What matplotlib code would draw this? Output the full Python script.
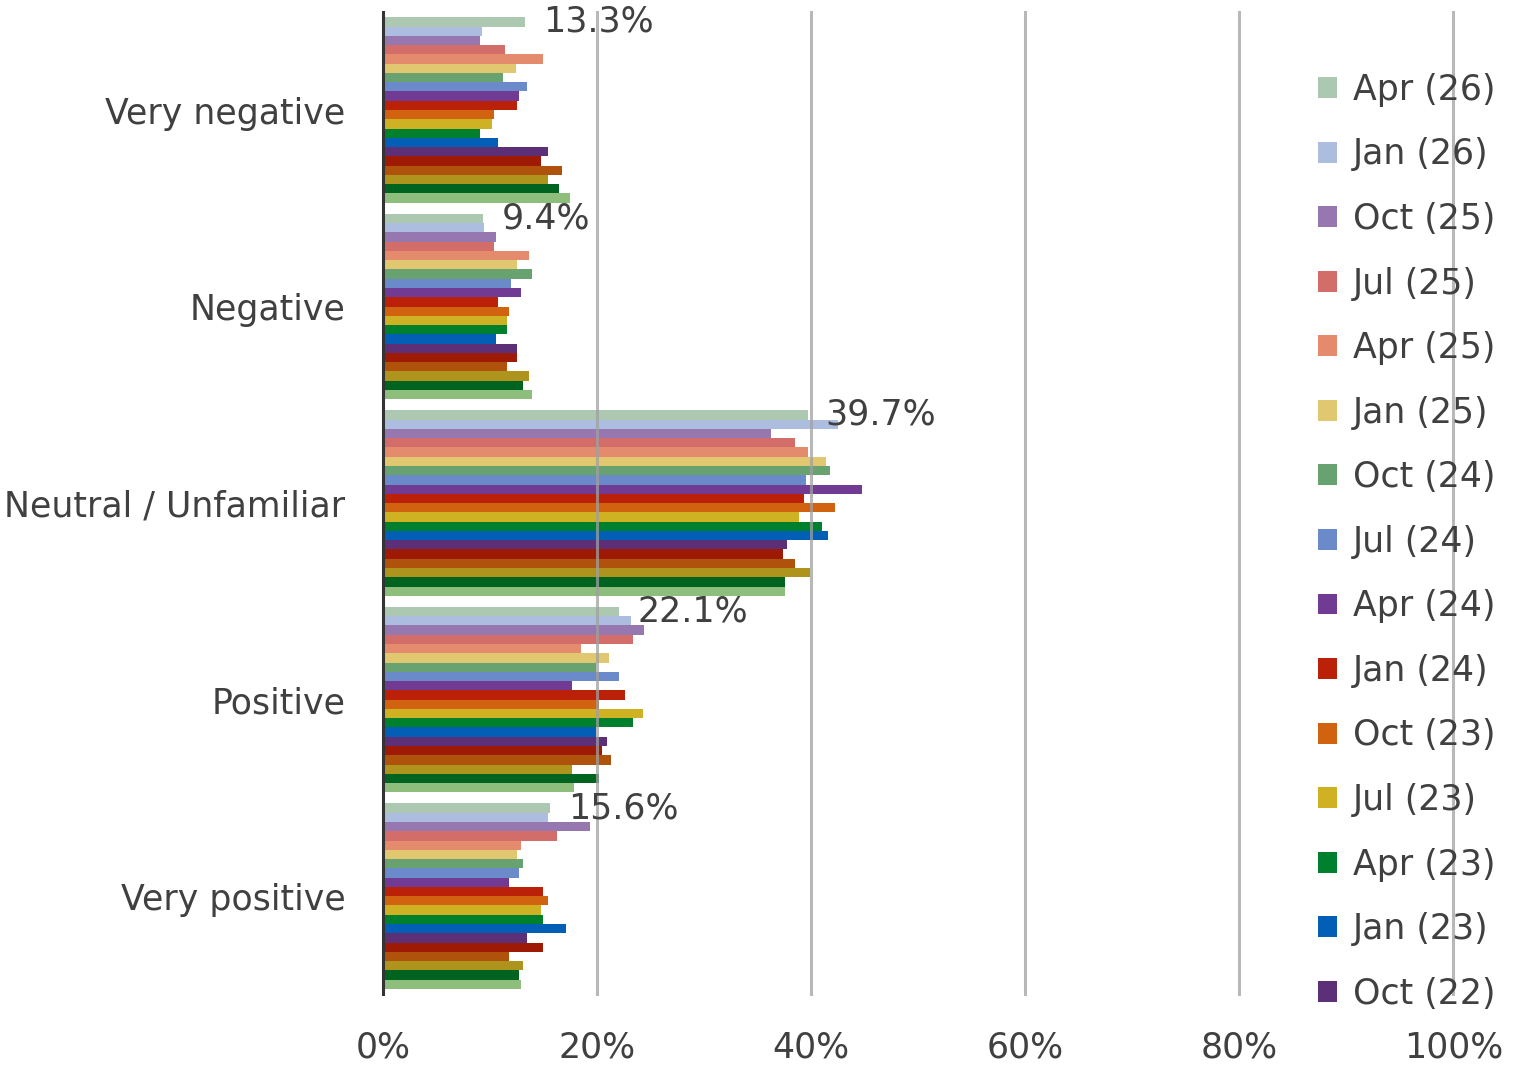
import numpy as np
import matplotlib
matplotlib.use("Agg")
import matplotlib.pyplot as plt

categories = ["Very negative", "Negative", "Neutral / Unfamiliar", "Positive", "Very positive"]

series_names = ["Apr (26)", "Jan (26)", "Oct (25)", "Jul (25)", "Apr (25)",
                "Jan (25)", "Oct (24)", "Jul (24)", "Apr (24)", "Jan (24)",
                "Oct (23)", "Jul (23)", "Apr (23)", "Jan (23)", "Oct (22)",
                "Jul (22)", "Apr (22)", "Jan (22)", "Oct (21)", "Jul (21)"]

colors = ["#adc8b0", "#adbddf", "#9677b0", "#d36d69", "#e38b6c",
          "#e1c870", "#68a271", "#6a8aca", "#723b93", "#bb2108",
          "#d1620f", "#cfb124", "#007f2d", "#025fb5", "#5c2f76",
          "#9e1a04", "#af520b", "#ae931c", "#006420", "#8dbe7b"]

# values per category, one entry per series (same order as series_names)
very_negative = [13.3, 9.3, 9.1, 11.4, 15.0, 12.4, 11.2, 13.5, 12.7, 12.5,
                 10.4, 10.2, 9.1, 10.8, 15.4, 14.8, 16.7, 15.4, 16.5, 17.5]
negative = [9.4, 9.5, 10.6, 10.4, 13.7, 12.5, 13.9, 12.0, 12.9, 10.8,
            11.8, 11.6, 11.6, 10.6, 12.5, 12.5, 11.6, 13.7, 13.1, 13.9]
neutral = [39.7, 42.5, 36.3, 38.5, 39.7, 41.4, 41.8, 39.5, 44.8, 39.3,
           42.2, 38.9, 41.0, 41.6, 37.8, 37.4, 38.5, 39.9, 37.6, 37.6]
positive = [22.1, 23.2, 24.4, 23.4, 18.5, 21.1, 19.9, 22.1, 17.7, 22.6,
            20.2, 24.3, 23.4, 19.9, 20.9, 20.5, 21.3, 17.7, 20.2, 17.9]
very_positive = [15.6, 15.4, 19.4, 16.3, 12.9, 12.5, 13.1, 12.7, 11.8, 15.0,
                 15.4, 14.8, 15.0, 17.1, 13.5, 15.0, 11.8, 13.1, 12.7, 12.9]

xticks = [0, 20, 40, 60, 80, 100]

data = np.array([very_negative, negative, neutral, positive, very_positive])

text_color = "#404040"
plt.rcParams["font.family"] = ["DejaVu Sans"]
fs = 25

fig = plt.figure(figsize=(15.25, 10.67), dpi=100)
ax = fig.add_axes([0.251, 0.068, 0.702, 0.921])

n = len(series_names)
group = 0.944
h = group / n
y = np.arange(len(categories))
handles = []
for i in range(n):
    pos = y - group / 2 + h * (i + 0.5)
    b = ax.barh(pos, data[:, i], height=h, color=colors[i], label=series_names[i], zorder=3)
    handles.append(b)
    if i == 0:
        for yy, v in zip(pos, data[:, i]):
            ax.annotate(f"{v:.1f}%", (v, yy), xytext=(18, 0), textcoords="offset pixels",
                        va="center", ha="left", fontsize=fs, color=text_color, zorder=5)

ax.set_ylim(len(categories) - 0.5, -0.5)
ax.set_xlim(0, 100)
ax.set_yticks(y)
ax.set_yticklabels(categories)
ax.set_xticks(xticks)
ax.set_xticklabels([f"{t}%" for t in xticks])
ax.tick_params(axis="y", length=0, pad=27, labelsize=fs, labelcolor=text_color)
ax.tick_params(axis="x", length=0, pad=26, labelsize=fs, labelcolor=text_color)

for s in ["top", "right", "bottom"]:
    ax.spines[s].set_visible(False)
ax.spines["left"].set_color("#333333")
ax.spines["left"].set_linewidth(2.2)
ax.spines["left"].set_zorder(6)

for t in xticks[1:]:
    ax.axvline(t, color="#a0a0a0", lw=2.2, alpha=0.75, zorder=4, clip_on=False)

leg = fig.legend(handles[:15], series_names[:15], loc="upper left",
                 bbox_to_anchor=(0.844, 0.961), frameon=False, fontsize=fs,
                 labelspacing=0.88, handlelength=0.55, handleheight=0.55,
                 handletextpad=0.45, labelcolor=text_color)

fig.savefig("out.png", dpi=100)
